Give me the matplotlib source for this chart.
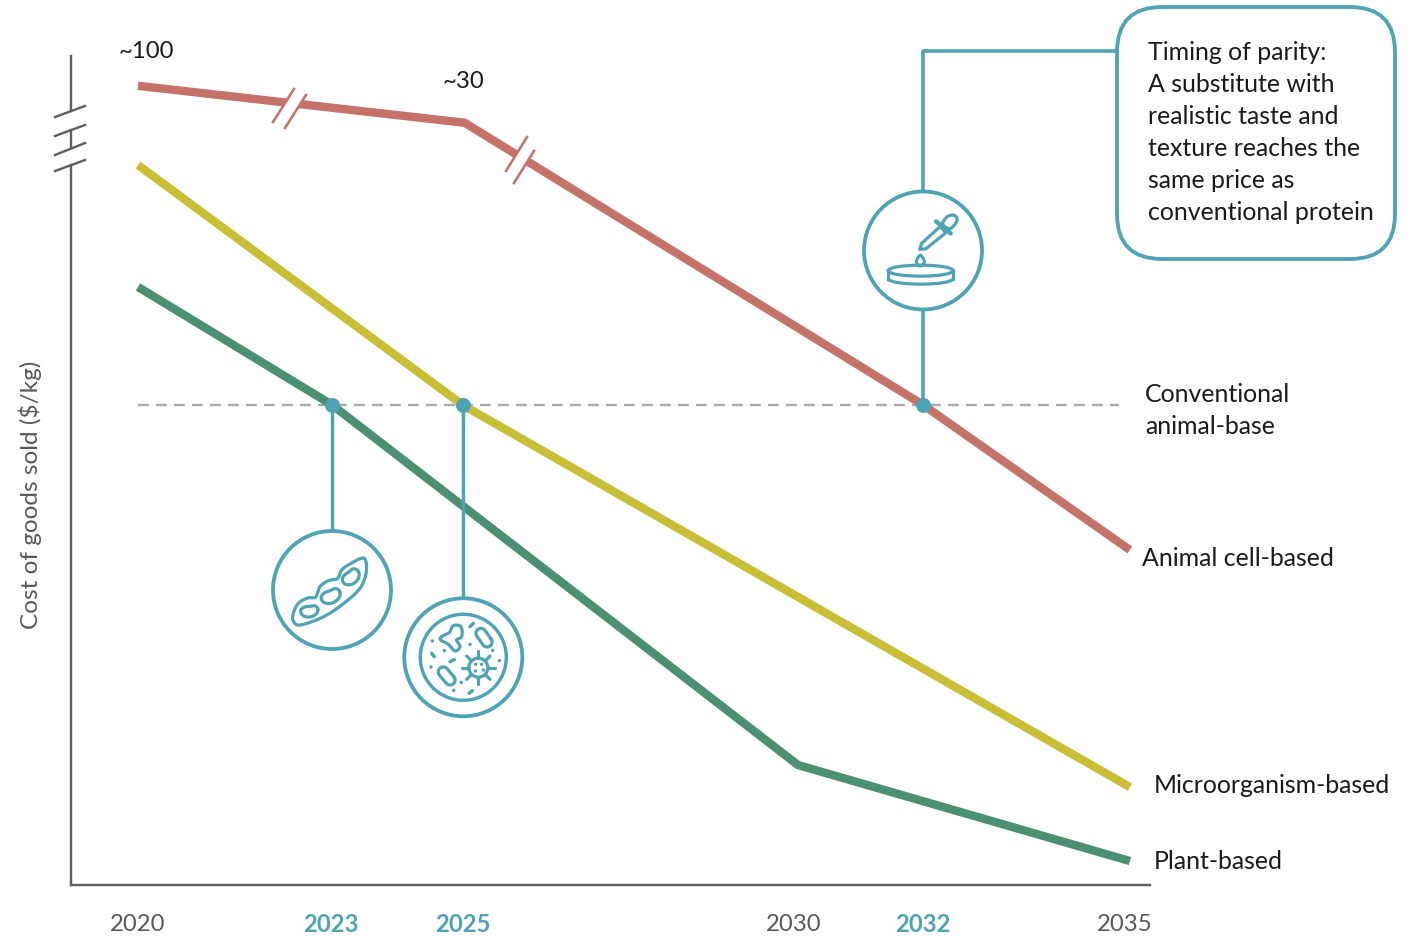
"""
Cost parity chart for alternative proteins: cost of goods sold against year,
with the parity years called out by teal pins and small line icons.
"""

import numpy as np
import matplotlib
matplotlib.use('Agg')
import matplotlib.pyplot as plt
from matplotlib.patches import Circle, Ellipse, FancyBboxPatch, Polygon, Arc

W, H = 1414, 937

# Series, values in an arbitrary cost index (conventional = 10)
CONVENTIONAL = 10.0
CELL_YEARS = [2020, 2024.98, 2031.97, 2035.12]
CELL_COST = [16.65, 15.88, 10.0, 6.98]
MICRO_YEARS = [2020, 2024.95, 2035.12]
MICRO_COST = [15.0, 10.0, 2.04]
PLANT_YEARS = [2020, 2022.96, 2030.06, 2035.12]
PLANT_COST = [12.46, 10.0, 2.5, 0.5]

PARITY_YEARS = [2022.96, 2024.95, 2031.97]
TICK_LABELS = ['2020', '2023', '2025', '2030', '2032', '2035']
TICK_BOLD = [False, True, True, False, True, False]
TICK_PX = [138, 331, 463, 794, 923, 1125]

TEAL = '#4FA3B6'
RED = '#C5736A'
YELLOW = '#C8BF37'
GREEN = '#4B9071'
AXIS_GRAY = '#5F5F5F'
TEXT_GRAY = '#595959'
PX = 0.72  # points per pixel at dpi 100

plt.rcParams['font.family'] = ['Lato', 'DejaVu Sans']
FS = 17.9
FS_NUM = 17.2
ICON_LW = 3.2


def smooth(points, closed=True, n=12):
    # Catmull-Rom through the outline points, for the hand drawn icons
    p = np.array(points, dtype=float)
    if closed:
        p = np.vstack([p[-1], p, p[0], p[1]])
    else:
        p = np.vstack([p[0], p, p[-1]])
    out = []
    for i in range(1, len(p) - 2):
        for t in np.linspace(0, 1, n, endpoint=False):
            a, b, c, d = p[i - 1], p[i], p[i + 1], p[i + 2]
            out.append(0.5 * (2 * b + (c - a) * t + (2 * a - 5 * b + 4 * c - d) * t ** 2
                              + (3 * b - a - 3 * c + d) * t ** 3))
    out.append(p[-2])
    return np.array(out)


def zoomed(points, ox, oy):
    return [(ox + x / 3, oy + y / 3) for x, y in points]


def outline(ax, points, ox, oy, lw=ICON_LW, closed=True):
    xy = smooth(zoomed(points, ox, oy), closed=closed)
    ax.plot(xy[:, 0], xy[:, 1], color=TEAL, lw=lw * PX, solid_capstyle='round', zorder=6)


def ring(ax, x, y, r, lw=3.8):
    ax.add_patch(Circle((x, y), r, fc='white', ec=TEAL, lw=lw * PX, zorder=5))


def capsule(ax, cx, cy, length, width, angle, ox, oy):
    a = np.radians(angle)
    pts = []
    for s, e in [(1, (-90, 90)), (-1, (90, 270))]:
        for t in np.radians(np.linspace(e[0], e[1], 12)):
            u = s * (length - width) / 2 + width / 2 * np.cos(t)
            v = width / 2 * np.sin(t)
            pts.append((cx + u * np.cos(a) - v * np.sin(a), cy + u * np.sin(a) + v * np.cos(a)))
    xy = np.array(zoomed(pts + pts[:1], ox, oy))
    ax.plot(xy[:, 0], xy[:, 1], color=TEAL, lw=ICON_LW * PX, zorder=6)


def pod_icon(ax):
    ox, oy = 265, 525
    ring(ax, 332, 590, 59)
    outline(ax, [(297, 100), (304, 140), (285, 190), (230, 240), (170, 278), (105, 300),
                 (85, 288), (85, 265), (100, 235), (128, 219), (152, 216), (165, 185), (190, 167),
                 (217, 161), (230, 135), (258, 115)], ox, oy)
    for cx, cy, w, h, rot in [(133, 257, 52, 38, -10), (197, 212, 60, 44, -25), (257, 155, 56, 44, -40)]:
        a = np.radians(rot)
        pts = []
        for t in np.radians(np.arange(0, 360, 40)):
            # kidney shape: flatten the upper side of an ellipse a little
            u = w / 2 * np.cos(t)
            v = h / 2 * np.sin(t)
            if np.sin(t) < 0:
                v *= 0.6 + 0.4 * abs(np.cos(t))
            pts.append((cx + u * np.cos(a) - v * np.sin(a), cy + u * np.sin(a) + v * np.cos(a)))
        outline(ax, pts, ox, oy)


def microbe_icon(ax):
    ox, oy = 265, 525
    ring(ax, 463.3, 657.3, 59)
    ax.add_patch(Circle((463.3, 657.3), 43, fc='none', ec=TEAL, lw=3.4 * PX, zorder=6))
    outline(ax, [(530, 335), (553, 322), (565, 302), (588, 305), (590, 335), (575, 345),
                 (585, 365), (570, 378), (550, 358), (527, 345)], ox, oy)
    capsule(ax, 657, 338, 62, 30, 55, ox, oy)
    capsule(ax, 545, 453, 62, 30, 50, ox, oy)
    vx, vy = 265 + 640 / 3, 525 + 428 / 3
    ax.add_patch(Circle((vx, vy), 9.5, fc='none', ec=TEAL, lw=ICON_LW * PX, zorder=6))
    for t in np.radians(np.arange(0, 360, 45)):
        ax.plot([vx + 9.5 * np.cos(t), vx + 16.5 * np.cos(t)], [vy + 9.5 * np.sin(t), vy + 16.5 * np.sin(t)],
                color=TEAL, lw=ICON_LW * PX, solid_capstyle='round', zorder=6)
    dots = [(502, 348), (538, 377), (615, 358), (683, 376), (703, 407), (498, 426), (589, 472),
            (566, 496), (632, 418), (650, 418), (631, 438), (655, 435)]
    for x, y in dots:
        ax.add_patch(Circle((ox + x / 3, oy + y / 3), 1.7, fc=TEAL, ec='none', zorder=6))
    dashes = [(615, 305, 625, 295), (500, 385, 508, 395), (555, 410, 568, 404), (612, 505, 622, 497)]
    for x0, y0, x1, y1 in dashes:
        ax.plot([ox + x0 / 3, ox + x1 / 3], [oy + y0 / 3, oy + y1 / 3], color=TEAL, lw=3.4 * PX,
                solid_capstyle='round', zorder=6)


def dropper_icon(ax):
    ox, oy = 860, 180
    ring(ax, 923, 250.5, 59)
    # pipette body, collar and bulb
    body = zoomed([(240, 140), (185, 190), (179, 208), (198, 206), (258, 158)], ox, oy)
    ax.add_patch(Polygon(body, closed=True, fc='none', ec=TEAL, lw=ICON_LW * PX, joinstyle='round', zorder=6))
    collar = zoomed([(228, 124), (272, 160)], ox, oy)
    ax.plot(*zip(*collar), color=TEAL, lw=4.4 * PX, solid_capstyle='round', zorder=6)
    outline(ax, [(248, 132), (262, 110), (283, 106), (291, 122), (270, 146)], ox, oy)
    # drop
    outline(ax, [(181, 226), (193, 245), (181, 258), (169, 245)], ox, oy)
    # dish
    cx, cy = ox + 182 / 3, oy + 272 / 3
    ax.add_patch(Ellipse((cx, cy), 65, 11, fc='none', ec=TEAL, lw=ICON_LW * PX, zorder=6))
    ax.add_patch(Arc((cx, cy + 8), 65, 11, theta1=0, theta2=180, ec=TEAL, lw=ICON_LW * PX, zorder=6))
    for s in (-1, 1):
        ax.plot([cx + s * 32.5, cx + s * 32.5], [cy, cy + 8], color=TEAL, lw=ICON_LW * PX, zorder=6)


def axis_breaks(ax):
    ax.plot([71, 71], [56, 111], color=AXIS_GRAY, lw=2.4 * PX, zorder=3)
    ax.plot([71, 71], [130, 148], color=AXIS_GRAY, lw=2.4 * PX, zorder=3)
    ax.plot([71, 71], [165, 885], color=AXIS_GRAY, lw=2.4 * PX, zorder=3)
    ax.plot([71, 1150], [885, 885], color=AXIS_GRAY, lw=2.4 * PX, zorder=3)
    for y0, y1 in [(117, 106), (136, 125), (155, 143), (171, 160)]:
        ax.plot([55, 85], [y0, y1], color=AXIS_GRAY, lw=2.4 * PX, zorder=3)


def line_break(ax, first, second):
    # white gap in the red line between two thin slashes
    ax.add_patch(Polygon([first[0], first[1], second[1], second[0]], closed=True,
                         fc='white', ec='none', zorder=3))
    for (x0, y0), (x1, y1) in (first, second):
        ax.plot([x0, x1], [y0, y1], color=RED, lw=2.6 * PX, zorder=4)


def main():
    fig = plt.figure(figsize=(W / 100, H / 100), dpi=100)

    # data axes: the whole canvas, scaled so years and cost index land where they should
    ax = fig.add_axes([0, 0, 1, 1])
    ax.set_xlim(2020 - 138 / 65.6, 2020 + (W - 138) / 65.6)
    ax.set_ylim((886 - H) / 48, 886 / 48)
    ax.axis('off')

    ax.plot([2020, 2034.95], [CONVENTIONAL, CONVENTIONAL], color='#ABABAB', lw=2.4 * PX,
            dashes=(4.5, 3), zorder=1)
    for years, cost, color in [(CELL_YEARS, CELL_COST, RED), (MICRO_YEARS, MICRO_COST, YELLOW),
                               (PLANT_YEARS, PLANT_COST, GREEN)]:
        ax.plot(years, cost, color=color, lw=8.4 * PX, solid_capstyle='butt',
                solid_joinstyle='miter', zorder=2)

    # overlay in canvas pixels for annotations and icons
    ov = fig.add_axes([0, 0, 1, 1], facecolor='none')
    ov.set_xlim(0, W)
    ov.set_ylim(H - 1, -1)
    ov.axis('off')

    axis_breaks(ov)
    line_break(ov, [(273, 122), (294, 89)], [(285, 128), (306, 95)])
    line_break(ov, [(506, 171), (527, 137)], [(514, 183), (534, 151)])

    # pins from the parity points down or up to the icons
    ov.plot([332, 332], [405, 535], color=TEAL, lw=3.4 * PX, zorder=4)
    ov.plot([463, 463], [405, 600], color=TEAL, lw=3.4 * PX, zorder=4)
    ov.plot([923, 923, 1118], [400, 51, 51], color=TEAL, lw=3.6 * PX, zorder=4)
    ax.scatter(PARITY_YEARS, [CONVENTIONAL] * 3, s=(15 * PX) ** 2, color=TEAL, linewidths=0, zorder=7)

    pod_icon(ov)
    microbe_icon(ov)
    dropper_icon(ov)

    ov.add_patch(FancyBboxPatch((1162, 52), 188, 162, boxstyle='round,pad=45,rounding_size=45',
                                fc='white', ec=TEAL, lw=3.8 * PX, zorder=5))
    box_lines = ['Timing of parity:', 'A substitute with', 'realistic taste and', 'texture reaches the',
                 'same price as', 'conventional protein']
    for i, s in enumerate(box_lines):
        ov.text(1148, 52 + i * 32, s, fontsize=FS, color='#1A1A1A', va='center', zorder=8)

    ov.text(119, 51, '~100', fontsize=FS_NUM, color='#1A1A1A', va='center')
    ov.text(443, 80, '~30', fontsize=FS_NUM, color='#1A1A1A', va='center')
    ov.text(1145, 394, 'Conventional', fontsize=FS, color='#1A1A1A', va='center')
    ov.text(1145, 426, 'animal-base', fontsize=FS, color='#1A1A1A', va='center')
    ov.text(1142, 558, 'Animal cell-based', fontsize=FS, color='#1A1A1A', va='center')
    ov.text(1154, 785, 'Microorganism-based', fontsize=FS, color='#1A1A1A', va='center')
    ov.text(1154, 861, 'Plant-based', fontsize=FS, color='#1A1A1A', va='center')
    ov.text(30, 494, 'Cost of goods sold ($/kg)', fontsize=17.6, color=TEXT_GRAY, rotation=90,
            va='center', ha='center')

    for x, s, bold in zip(TICK_PX, TICK_LABELS, TICK_BOLD):
        ov.text(x, 924, s, fontsize=FS_NUM, ha='center', va='center',
                color=TEAL if bold else TEXT_GRAY, fontweight='bold' if bold else 'normal')

    fig.savefig('out.png', dpi=100)
    plt.close(fig)


if __name__ == '__main__':
    main()
